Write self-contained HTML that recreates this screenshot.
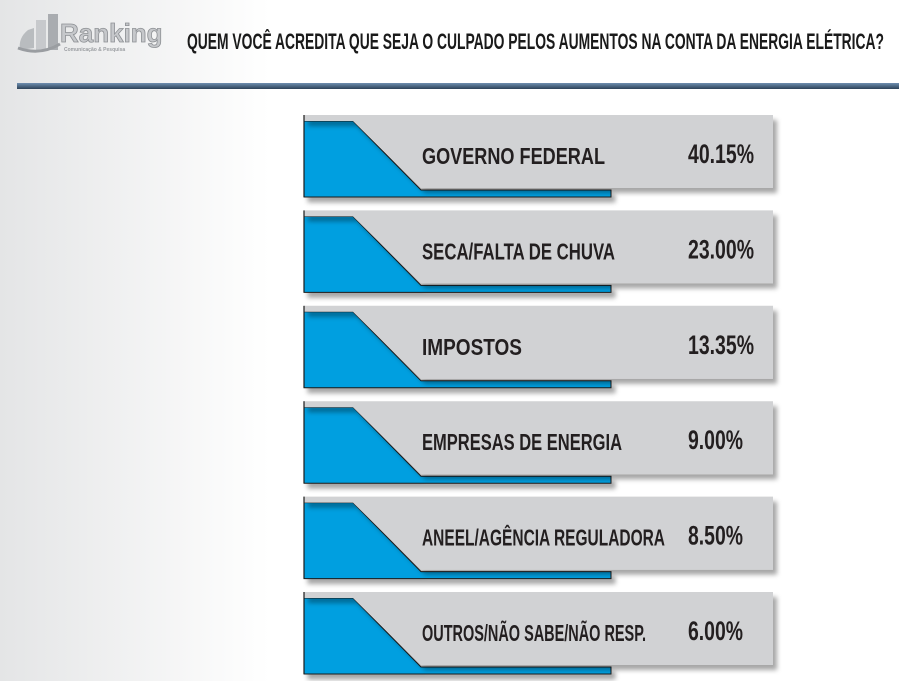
<!DOCTYPE html>
<html><head><meta charset="utf-8">
<style>
html,body{margin:0;padding:0;width:899px;height:681px;overflow:hidden;background:#fff;}
svg{display:block;}
text{font-family:"Liberation Sans","DejaVu Sans",sans-serif;font-weight:bold;}
</style></head>
<body>
<svg id="chart" width="899" height="681" viewBox="0 0 899 681">
<defs>
<linearGradient id="bg" x1="0" x2="1" y1="0" y2="0">
<stop offset="0" stop-color="#e4e5e6"/><stop offset="0.3" stop-color="#ffffff"/></linearGradient>
<linearGradient id="line" x1="0" x2="0" y1="0" y2="1">
<stop offset="0" stop-color="#6f8fb0"/><stop offset="1" stop-color="#2c4258"/></linearGradient>
<filter id="sh" x="-5%" y="-10%" width="115%" height="140%"><feDropShadow dx="4" dy="5" stdDeviation="2.5" flood-color="#000" flood-opacity="0.35"/></filter>
</defs>
<rect width="899" height="681" fill="url(#bg)"/>
<g>
<path d="M20 50 Q18 38 28 30 L34 28 L34 48 Z" fill="#b9bcbf"/>
<rect x="36" y="20" width="10" height="30" fill="#c7c9cc"/>
<rect x="48" y="14" width="10" height="36" fill="#a9acb0"/>
<path d="M18 48 Q40 56 60 44" stroke="#9a9da1" stroke-width="3" fill="none"/>
<text x="60" y="42" font-size="26" fill="#c6c8cb" stroke="#8d9094" stroke-width="0.8" font-weight="normal">Ranking</text>
<text x="64" y="51" font-size="5" fill="#9a9da1" font-weight="normal">Comunicação &amp; Pesquisa</text>
</g>
<text x="187" y="49" font-size="22" fill="#1a1a1a" textLength="697" lengthAdjust="spacingAndGlyphs">QUEM VOCÊ ACREDITA QUE SEJA O CULPADO PELOS AUMENTOS NA CONTA DA ENERGIA ELÉTRICA?</text>
<rect x="17" y="83" width="882" height="6" fill="url(#line)"/>
<g id="rows"></g>
</svg>
<script>
const categories = ["GOVERNO FEDERAL","SECA/FALTA DE CHUVA","IMPOSTOS","EMPRESAS DE ENERGIA","ANEEL/AGÊNCIA REGULADORA","OUTROS/NÃO SABE/NÃO RESP."];
const values = [40.15, 23.00, 13.35, 9.00, 8.50, 6.00];
const labelWidths = [183, 193, 100, 200, 243, 224];

const NS = "http://www.w3.org/2000/svg";
const g = document.getElementById("rows");
function rowY(i){ return 115 + i * 95.4; }
function mk(tag, attrs, parent){ const e = document.createElementNS(NS, tag); for (const k in attrs) e.setAttribute(k, attrs[k]); parent.appendChild(e); return e; }
categories.forEach((c, i) => {
  const y = rowY(i);
  const row = mk("g", {}, g);
  
  
  const blue = mk("path", {d:`M304 ${y+6} L353 ${y+6} L421 ${y+75} L611 ${y+75} L611 ${y+82} L304 ${y+82} Z`, fill:"#009fe0", stroke:"#1b1b1b", "stroke-width":"1", filter:"url(#sh)"}, row);
  
  
  const gray = mk("path", {d:`M304 ${y} L773 ${y} L773 ${y+73} L421 ${y+73} L353 ${y+6} L304 ${y+6} Z`, fill:"#d1d2d4", filter:"url(#sh)"}, row);
  
  
  mk("path", {d:`M304 ${y} L304 ${y+82}`, stroke:"#1b1b1b", "stroke-width":"1.2"}, row);
  const lab = mk("text", {x:422, y:y+49, "font-size":"23", fill:"#231f20", textLength:labelWidths[i], lengthAdjust:"spacingAndGlyphs"}, row);
  lab.textContent = c;
  
  
  const v = values[i].toFixed(2) + "%";
  const val = mk("text", {x:688, y:y+48, "font-size":"27", fill:"#231f20", textLength: v.length * 11, lengthAdjust:"spacingAndGlyphs"}, row);
  val.textContent = v;
  
  
});
</script>
</body></html>
